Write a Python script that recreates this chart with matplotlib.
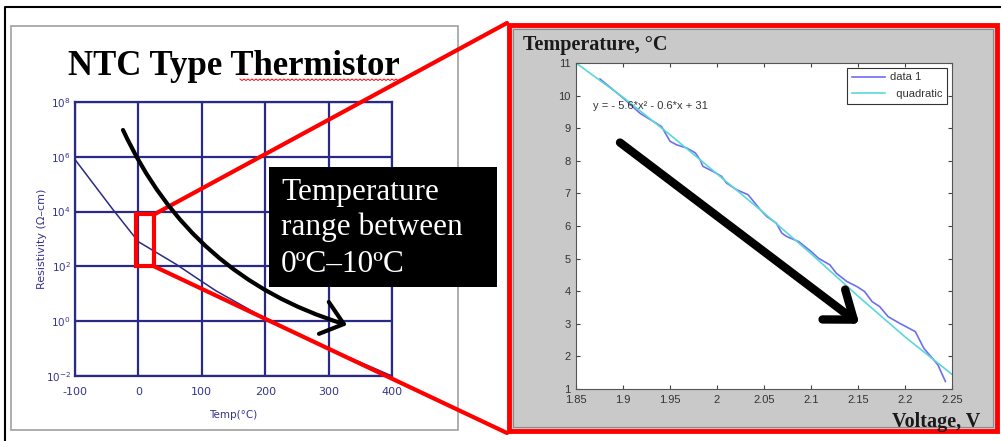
import numpy as np
import matplotlib
matplotlib.use("Agg")
import matplotlib.pyplot as plt
from matplotlib.patches import Rectangle, FancyArrowPatch, ConnectionPatch
from matplotlib.path import Path

# left chart: resistivity vs temperature (log10 values)
temp_c = [-100, -40, 0, 60, 100, 123, 200, 300, 400]
log_rho = [5.9, 4.07, 2.9, 2.07, 1.45, 1.1, 0.1, -1.0, -2.0]
temp_ticks = [-100, 0, 100, 200, 300, 400]
temp_tick_labels = ['-100', '0', '100', '200', '300', '400']
rho_ticks = [1e-2, 1e0, 1e2, 1e4, 1e6, 1e8]
rho_tick_labels = ['$10^{-2}$', '$10^{0}$', '$10^{2}$', '$10^{4}$', '$10^{6}$', '$10^{8}$']

# right chart: measured temperature vs voltage
volt = [1.8755, 1.9, 1.918, 1.941, 1.95, 1.957, 1.968, 1.977, 1.982, 1.985, 1.996,
        2.005, 2.01, 2.021, 2.033, 2.039, 2.046, 2.053, 2.063, 2.069, 2.074, 2.087,
        2.1, 2.108, 2.12, 2.127, 2.138, 2.149, 2.157, 2.165, 2.173, 2.182, 2.194,
        2.211, 2.22, 2.235, 2.243]
temp_meas = [10.51, 9.93, 9.46, 9.05, 8.6, 8.49, 8.39, 8.24, 8.03, 7.83, 7.67,
             7.52, 7.32, 7.11, 6.96, 6.75, 6.5, 6.29, 6.09, 5.78, 5.68, 5.52,
             5.22, 5.01, 4.81, 4.55, 4.3, 4.14, 3.99, 3.68, 3.53, 3.22, 3.02,
             2.76, 2.25, 1.74, 1.23]
# quadratic fit line as drawn
fit_volt = [1.85, 1.9, 1.95, 2.0, 2.05, 2.1, 2.15, 2.2, 2.25]
fit_temp = [11.0, 9.95, 8.8, 7.6, 6.4, 5.15, 3.85, 2.6, 1.45]
volt_ticks = [1.85, 1.9, 1.95, 2.0, 2.05, 2.1, 2.15, 2.2, 2.25]
volt_tick_labels = ['1.85', '1.9', '1.95', '2', '2.05', '2.1', '2.15', '2.2', '2.25']
temp_ticks_r = list(range(1, 12))

W, H = 1001, 441
NAVY = '#2a2a86'
fig = plt.figure(figsize=(W / 100, H / 100), dpi=100)

# background layer in pixel coords
bg = fig.add_axes([0, 0, 1, 1], zorder=0)
bg.set_xlim(0, W); bg.set_ylim(H, 0); bg.axis('off')
bg.plot([5, 5, W], [H, 7, 7], color='black', lw=1.5)
bg.add_patch(Rectangle((11, 26), 447, 404, fill=False, ec='#a0a0a0', lw=1.2))
bg.add_patch(Rectangle((509, 25), 488, 406, fc='#c9c9c9', ec='red', lw=3.5))
bg.add_patch(Rectangle((513, 29), 480, 398, fill=False, ec='#8a8a8a', lw=0.8))
bg.text(234, 75, 'NTC Type Thermistor', ha='center', va='baseline', fontsize=25,
        family='Liberation Serif', weight='bold')
sq_x = np.arange(240, 404, 2)
bg.plot(sq_x, 79 + (np.arange(len(sq_x)) % 2) * 1.5, color='red', lw=0.7)
bg.text(523, 45, 'Temperature, °C', ha='left', va='center', fontsize=14.5,
        family='Liberation Serif', weight='bold', color='#1a1a1a')
bg.text(980, 422, 'Voltage, V', ha='right', va='center', fontsize=14.5,
        family='Liberation Serif', weight='bold', color='#1a1a1a')

# left chart
ax1 = fig.add_axes([75 / W, (H - 376) / H, 317 / W, 274 / H], zorder=2)
ax1.plot(temp_c, 10 ** np.array(log_rho), color=NAVY, lw=1.1)
ax1.set_yscale('log')
ax1.set_xlim(-100, 400)
ax1.set_ylim(1e-2, 1e8)
ax1.set_xticks(temp_ticks, temp_tick_labels)
ax1.set_yticks(rho_ticks, rho_tick_labels)
ax1.minorticks_off()
ax1.grid(True, color=NAVY, lw=1.6)
for sp in ax1.spines.values():
    sp.set_color(NAVY); sp.set_linewidth(1.6)
ax1.tick_params(length=0, labelsize=8, labelcolor='#34348c')
ax1.tick_params(axis='x', pad=8)
ax1.tick_params(axis='y', pad=3, labelsize=7.5)
ax1.set_xlabel('Temp(°C)', fontsize=7.5, color='#34348c')
ax1.xaxis.set_label_coords(0.5, -(415 - 376) / 274)
ax1.xaxis.label.set_va('center')
ax1.set_ylabel('Resistivity (Ω–cm)', fontsize=8, color='#34348c')
ax1.yaxis.set_label_coords(-(75 - 42) / 317, 0.5)
ax1.yaxis.label.set_va('center')
ax1.add_patch(Rectangle((-4, 1e2), 29, 10 ** 3.9 - 1e2, fill=False, ec='red',
                        lw=3, zorder=6, clip_on=False))

# right chart
ax2 = fig.add_axes([576 / W, (H - 389) / H, 376 / W, 326 / H], zorder=2)
ax2.plot(volt, temp_meas, color='#6e6ef0', lw=1.2, label='data 1')
ax2.plot(fit_volt, fit_temp, color='#5ad8d8', lw=1.2, label='  quadratic')
ax2.set_xlim(1.85, 2.25)
ax2.set_ylim(1, 11)
ax2.set_xticks(volt_ticks, volt_tick_labels)
ax2.set_yticks(temp_ticks_r)
for sp in ax2.spines.values():
    sp.set_color('#555555'); sp.set_linewidth(0.8)
ax2.tick_params(direction='in', length=3, top=True, right=True, color='#444444',
                labelsize=8, labelcolor='#333333', pad=4)
for lab in ax2.get_xticklabels() + ax2.get_yticklabels():
    lab.set_family('Liberation Sans')
leg = ax2.legend(loc='upper right', handlelength=3, handletextpad=0.45,
                 labelspacing=0.6, borderaxespad=0.45, fancybox=False,
                 edgecolor='#333333', framealpha=1, prop={'family': 'Liberation Sans', 'size': 8})
leg.get_frame().set_linewidth(0.8)
for t in leg.get_texts():
    t.set_color('#333333')
ax2.text(1.868, 9.68, 'y = - 5.6*x² - 0.6*x + 31', fontsize=8, color='#333333',
         va='center', family='Liberation Sans')
ax2.annotate('', xy=(2.1514, 3.0), xytext=(1.8968, 8.56),
             arrowprops=dict(arrowstyle='->,head_length=0.4,head_width=0.3',
                             mutation_scale=45, lw=6, color='black',
                             shrinkA=0, shrinkB=0, capstyle='round'))

# foreground layer
fg = fig.add_axes([0, 0, 1, 1], zorder=5)
fg.set_xlim(0, W); fg.set_ylim(H, 0); fg.axis('off'); fg.set_facecolor('none')

for yA, yB in [(10 ** 3.9, 23), (1e2, 433)]:
    con = ConnectionPatch(xyA=(25, yA), coordsA=ax1.transData, xyB=(507, yB),
                          coordsB=fg.transData, color='red', lw=3, zorder=4)
    fig.add_artist(con)

curve = Path([(123, 130), (191, 277), (347, 325)], [Path.MOVETO, Path.CURVE3, Path.CURVE3])
fg.add_patch(FancyArrowPatch(path=curve, arrowstyle='->,head_length=0.5,head_width=0.4',
                             mutation_scale=30, lw=3, color='black', capstyle='round'))

fg.add_patch(Rectangle((269, 167), 228, 120, fc='black', ec='none'))
for txt, yb in [('Temperature', 200), ('range between', 235), ('0ºC–10ºC', 272)]:
    fg.text(281, yb, txt, color='white', fontsize=22.5, family='Liberation Serif',
            va='baseline', ha='left')

fig.savefig('out.png', dpi=100)
